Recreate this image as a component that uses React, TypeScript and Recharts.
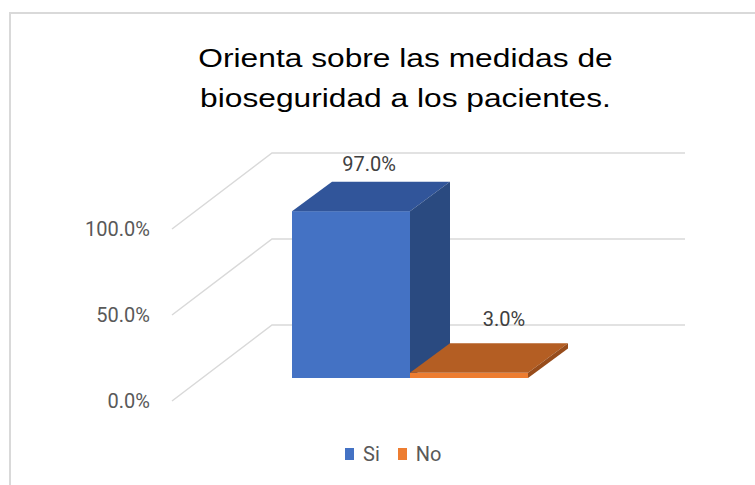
import React from 'react';
import { BarChart, Bar, XAxis, YAxis, CartesianGrid, Legend } from 'recharts';

// chart values
const categories = ['Orienta sobre las medidas de bioseguridad a los pacientes.'];
const seriesNames = ['Si', 'No'];
const siValues = [0.97];
const noValues = [0.03];
const yTicks = [0, 0.5, 1];
const titleLines = ['Orienta sobre las medidas de', 'bioseguridad a los pacientes.'];

// 3d look
const GRID_DX = 100;
const GRID_DY = 76;
const OFF_X = 31;
const OFF_Y = 23;
const BAR_DX = 40;
const BAR_DY = 29.5;
const LABEL_FONT = 'Roboto, "Liberation Sans", sans-serif';

const data = categories.map((name, i) => ({
  name,
  [seriesNames[0]]: siValues[i],
  [seriesNames[1]]: noValues[i],
}));

const pct = (v: number) => `${(v * 100).toFixed(1)}%`;

function makeShape(dataKey: string, face: string, top: string, side: string, labelDx: number, labelDy: number) {
  return (props: any) => {
    const { x, y, width, height, payload } = props;
    const fx = x + OFF_X;
    const fy = y - OFF_Y;
    const bottom = fy + height;
    return (
      <g>
        <rect x={fx} y={fy} width={width} height={height} fill={face} />
        <polygon
          points={`${fx},${fy} ${fx + BAR_DX},${fy - BAR_DY} ${fx + width + BAR_DX},${fy - BAR_DY} ${fx + width},${fy}`}
          fill={top}
        />
        <polygon
          points={`${fx + width},${fy} ${fx + width + BAR_DX},${fy - BAR_DY} ${fx + width + BAR_DX},${bottom - BAR_DY} ${fx + width},${bottom}`}
          fill={side}
        />
        <text
          x={fx + width / 2 + labelDx}
          y={fy - labelDy}
          textAnchor="middle"
          fontSize={20}
          fontFamily={LABEL_FONT}
          fill="#404040"
        >
          {pct(payload[dataKey])}
        </text>
      </g>
    );
  };
}

// floor diagonal + back wall line for each tick
const gridLine = (p: any) => (
  <path
    key={`grid-${p.index}`}
    d={`M${p.x1},${p.y1} L${p.x1 + GRID_DX},${p.y1 - GRID_DY} L${p.x2 + GRID_DX},${p.y1 - GRID_DY}`}
    stroke="#d9d9d9"
    strokeWidth={1.5}
    fill="none"
  />
);

const renderLegend = (props: any) => {
  const items = [...(props.payload || [])].sort(
    (a: any, b: any) => seriesNames.indexOf(a.value) - seriesNames.indexOf(b.value)
  );
  return (
    <div style={{ display: 'flex', alignItems: 'center', height: 24 }}>
      {items.map((item: any, i: number) => (
        <div key={item.value} style={{ display: 'flex', alignItems: 'center', marginRight: i === 0 ? 18 : 0 }}>
          <span style={{ display: 'inline-block', width: 9, height: 12, background: item.color, marginRight: 9 }} />
          <span style={{ fontFamily: LABEL_FONT, fontSize: 20, color: '#595959', lineHeight: '24px' }}>{item.value}</span>
        </div>
      ))}
    </div>
  );
};

export default function App() {
  return (
    <div style={{ position: 'absolute', left: 0, top: 0, width: 755, height: 485, overflow: 'hidden', background: '#fff' }}>
      <div
        style={{
          position: 'absolute',
          left: 9,
          top: 12,
          width: 800,
          height: 520,
          borderLeft: '2px solid #d9d9d9',
          borderTop: '2px solid #d9d9d9',
        }}
      />
      <div style={{ position: 'absolute', left: 0, top: 0 }}>
        <BarChart
          width={755}
          height={485}
          data={data}
          margin={{ top: 229, right: 170, bottom: 60, left: 0 }}
          barGap={0}
        >
          <CartesianGrid vertical={false} horizontal={gridLine} />
          <XAxis dataKey="name" hide />
          <YAxis
            width={172}
            domain={[0, 1]}
            ticks={yTicks}
            interval={0}
            tickFormatter={pct}
            axisLine={false}
            tickLine={false}
            tickSize={0}
            tickMargin={22}
            tick={{ fontSize: 20, fill: '#595959', fontFamily: LABEL_FONT }}
          />
          <Legend content={renderLegend} wrapperStyle={{ left: 345, top: 442, width: 'auto', bottom: 'auto' }} />
          <Bar
            dataKey={seriesNames[0]}
            fill="#4472C4"
            barSize={118}
            isAnimationActive={false}
            shape={makeShape(seriesNames[0], '#4472C4', '#31559A', '#2A4A80', 18, 40)}
          />
          <Bar
            dataKey={seriesNames[1]}
            fill="#ED7D31"
            barSize={118}
            isAnimationActive={false}
            shape={makeShape(seriesNames[1], '#ED7D31', '#B45E23', '#974C1B', 35, 47)}
          />
        </BarChart>
      </div>
      <svg width={755} height={485} style={{ position: 'absolute', left: 0, top: 0, pointerEvents: 'none' }}>
        {titleLines.map((line, i) => (
          <text
            key={line}
            transform={`translate(405.5, ${66.5 + i * 40.5}) scale(1.22, 1)`}
            textAnchor="middle"
            fontSize={26}
            fontFamily='"Liberation Sans", Arial, sans-serif'
            fill="#000"
          >
            {line}
          </text>
        ))}
      </svg>
    </div>
  );
}
